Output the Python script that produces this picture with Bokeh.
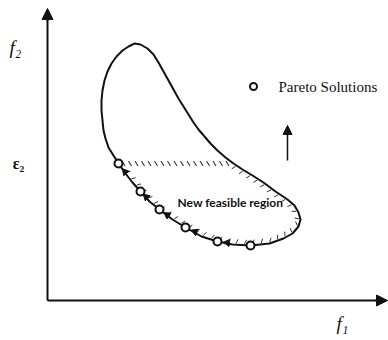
import numpy as np
from bokeh.plotting import figure
from bokeh.models import Range1d, Arrow, NormalHead
from bokeh.core.properties import value
from bokeh.embed import file_html
from bokeh.resources import INLINE

# Feasible-region boundary (f1, f2), traced clockwise from the first Pareto point
boundary_f1 = [71, 66, 61, 58, 56, 55, 54, 54, 55, 57, 60, 64, 69, 75, 81, 87, 93, 100,
               106, 111, 116, 121, 126, 131, 136, 141, 146, 151, 157, 163, 170, 178, 186,
               195, 205, 216, 228, 240, 247, 251, 253, 251, 245, 236, 222, 203, 185, 170,
               154, 138, 125, 112, 102, 93, 85, 78, 71]
boundary_f2 = [137, 145, 153, 162, 170, 180, 190, 200, 210, 220, 229, 237, 244, 250, 254, 257,
               256, 252, 246, 238, 229, 220, 211, 202, 194, 186, 178, 171, 164, 157, 150, 143,
               137, 131, 125, 118, 109, 101, 95, 88, 81, 74, 67, 62, 57, 55, 56, 59, 64, 73,
               81, 91, 99, 109, 118, 127, 137]

# Pareto solutions
pareto_f1 = [71, 93, 112, 138, 170, 203]
pareto_f2 = [137, 109, 91, 73, 59, 55]

# epsilon constraint level and where it meets the boundary
epsilon2 = 137
eps_cross_f1 = 186

# axis extents
f1_axis_end = 340
f2_axis_end = 292

# legend marker / arrow / text anchors
legend_f1, legend_f2 = 206, 214
up_arrow_f1, up_arrow_f2 = [240, 240], [140, 175]
region_text_f1, region_text_f2 = 130, 98

ink = "#111111"

p = figure(width=388, height=340, output_backend="svg", toolbar_location=None,
           x_range=Range1d(-47, 341), y_range=Range1d(-40, 300),
           min_border=0, background_fill_color="white", border_fill_color="white")
p.outline_line_color = None
p.axis.visible = False
p.xgrid.visible = False
p.ygrid.visible = False

# axes drawn as arrows from the origin
p.line([0, 0], [0, f2_axis_end - 8], line_color=ink, line_width=2)
p.line([0, f1_axis_end - 8], [0, 0], line_color=ink, line_width=2)
p.add_layout(Arrow(end=NormalHead(size=11, fill_color=ink, line_color=ink),
                   x_start=0, y_start=f2_axis_end - 12, x_end=0, y_end=f2_axis_end,
                   line_width=2, line_color=ink))
p.add_layout(Arrow(end=NormalHead(size=11, fill_color=ink, line_color=ink),
                   x_start=f1_axis_end - 12, y_start=0, x_end=f1_axis_end, y_end=0,
                   line_width=2, line_color=ink))

# axis names and epsilon level label
p.text(x=[-32], y=[253], text=["f₂"], text_font=value("Liberation Serif"),
       text_font_size="19px", text_font_style="italic",
       text_baseline="middle", text_align="center", text_color=ink)
p.text(x=[295], y=[-23], text=["f₁"], text_font=value("Liberation Serif"),
       text_font_size="19px", text_font_style="italic",
       text_baseline="middle", text_align="center", text_color=ink)
p.text(x=[-29], y=[epsilon2], text=["ε₂"], text_font=value("Liberation Serif"),
       text_font_size="16px", text_font_style="bold",
       text_baseline="middle", text_align="center", text_color=ink)

# boundary curve
p.line(boundary_f1, boundary_f2, line_color=ink, line_width=2)

# hatching along the epsilon line
hx = np.arange(pareto_f1[0] + 5, eps_cross_f1 - 1, 6.5)
p.segment(x0=hx - 1.5, y0=epsilon2 + 2.5, x1=hx + 1.5, y1=epsilon2 - 2.5,
          line_color="#333333", line_width=1.1)

# hatching along the new feasible region's curved boundary
bx = np.array(boundary_f1, dtype=float)
by = np.array(boundary_f2, dtype=float)
start = boundary_f1.index(eps_cross_f1)
sx, sy = bx[start:], by[start:]
seg = np.hypot(np.diff(sx), np.diff(sy))
cum = np.concatenate([[0], np.cumsum(seg)])
tx0, ty0, tx1, ty1 = [], [], [], []
rot = np.deg2rad(-25)
for s in np.arange(4, cum[-1] - 4, 8.5):
    i = np.searchsorted(cum, s) - 1
    f = (s - cum[i]) / seg[i]
    px = sx[i] + f * (sx[i + 1] - sx[i])
    py = sy[i] + f * (sy[i + 1] - sy[i])
    tx = (sx[i + 1] - sx[i]) / seg[i]
    ty = (sy[i + 1] - sy[i]) / seg[i]
    nx, ny = ty, -tx
    rx = nx * np.cos(rot) - ny * np.sin(rot)
    ry = nx * np.sin(rot) + ny * np.cos(rot)
    tx0.append(px + 1.5 * rx); ty0.append(py + 1.5 * ry)
    tx1.append(px + 6 * rx); ty1.append(py + 6 * ry)
p.segment(x0=tx0, y0=ty0, x1=tx1, y1=ty1, line_color="#333333", line_width=1.0)

# direction arrows between Pareto points (pointing toward the upper one)
ax_, ay_, aang = [], [], []
for k in range(1, len(pareto_f1)):
    ux, uy = pareto_f1[k - 1], pareto_f2[k - 1]
    lx, ly = pareto_f1[k], pareto_f2[k]
    ax_.append(ux + 0.3 * (lx - ux))
    ay_.append(uy + 0.3 * (ly - uy))
    aang.append(np.arctan2(uy - ly, ux - lx) - np.pi / 2)
p.scatter(ax_, ay_, marker="triangle", size=7, angle=aang,
          fill_color=ink, line_color=ink)

# Pareto solutions
p.scatter(pareto_f1, pareto_f2, marker="circle", size=8, fill_color="white",
          line_color=ink, line_width=2)

# legend
p.scatter([legend_f1], [legend_f2], marker="circle", size=7, fill_color="white",
          line_color=ink, line_width=2)
p.text(x=[legend_f1 + 25], y=[legend_f2], text=["Pareto Solutions"],
       text_font=value("Liberation Serif"), text_font_size="15px",
       text_baseline="middle", text_align="left", text_color=ink)

# up arrow
p.add_layout(Arrow(end=NormalHead(size=9, fill_color=ink, line_color=ink),
                   x_start=up_arrow_f1[0], y_start=up_arrow_f2[0],
                   x_end=up_arrow_f1[1], y_end=up_arrow_f2[1],
                   line_width=1.5, line_color=ink))

# region text
p.text(x=[region_text_f1], y=[region_text_f2], text=["New feasible region"],
       text_font=value("Lato"), text_font_size="12px", text_font_style="bold",
       text_baseline="middle", text_align="left", text_color=ink)

open("out.html", "w").write(file_html(p, INLINE))
